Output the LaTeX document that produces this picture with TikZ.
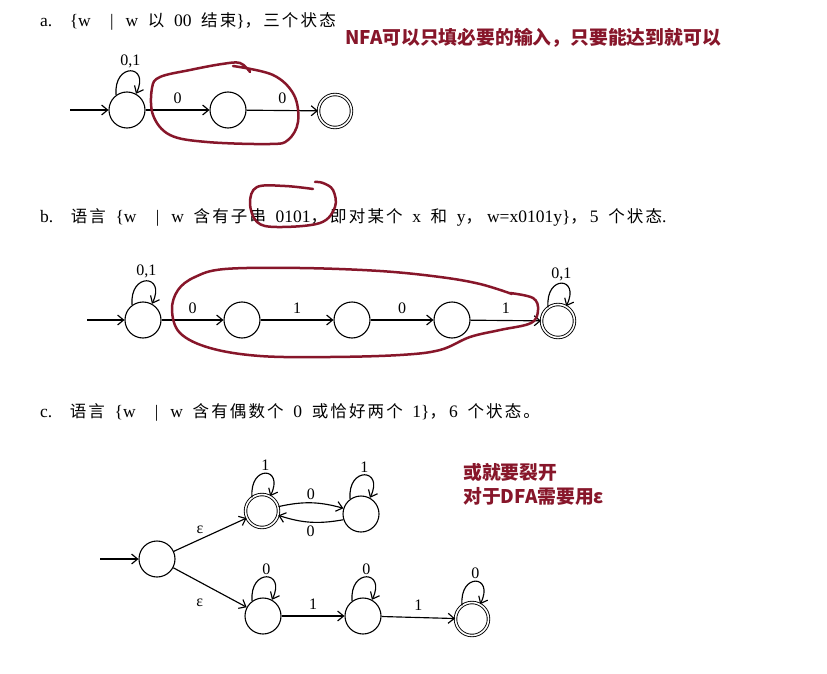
\documentclass[tikz,border=0pt]{standalone}
\usepackage{fontspec}
\setmainfont{Liberation Serif}[WordSpace=2.2]
\newfontfamily\cjk{Noto Sans CJK SC}[LetterSpace=13,Scale=0.943]
\newfontfamily\cjknote{Noto Sans CJK SC}
\usetikzlibrary{arrows.meta}
\definecolor{mark}{RGB}{135,22,42}
\newcommand\zh[1]{{\cjk #1}}
\newcommand\setbar{~|\hspace{12pt}}
\newcommand\selfloop[2]{\draw[tr] (#1.126) .. controls +(95:33) and +(64:33) .. node[lbl,above] {#2} (#1.61);}
\begin{document}
\begin{tikzpicture}[x=1pt,y=1pt,
 state/.style={circle,draw,line width=1.1pt,minimum size=36pt,inner sep=0pt},
 accept/.style={circle,draw,double,double distance=1.6pt,line width=0.9pt,minimum size=33pt,inner sep=0pt},
 tr/.style={->,>={Straight Barb[length=6pt,width=10pt]},line width=1.15pt},
 lbl/.style={font=\fontsize{16}{16}\selectfont,inner sep=2pt},
 title/.style={anchor=base west,font=\fontsize{17.5}{19}\selectfont,inner sep=0pt},
 note/.style={anchor=base west,font=\cjknote\bfseries\fontsize{18.8}{20}\selectfont,text=mark,inner sep=0pt},
 hand/.style={draw=mark,line width=2.5pt,line cap=round,line join=round}
]
\useasboundingbox[fill=white] (0,0) rectangle (827,-674);

% ---------- titles and notes
\node[title] (ta) at (40,-27) {a.\quad\{w \setbar w \zh{以} 00 \zh{结束}\}\zh{，三个状态}};
\node[note] (na) at (345,-45) {NFA可以只填必要的输入，只要能达到就可以};
\node[title] (tb) at (40,-222) {b.\quad\zh{语言} \{w \setbar w \zh{含有子串} 0101\zh{，}\hspace{3pt}\zh{即对某个} x \zh{和} y\zh{，}\hspace{5pt}w=x0101y\}\zh{，}\hspace{3pt}5 \zh{个状态}.};
\node[title] (tc) at (40,-417) {c.\quad\zh{语言} \{w \setbar w \zh{含有偶数个} 0 \zh{或恰好两个} 1\}\zh{，}\hspace{3pt}6 \zh{个状态。}};
\node[note] (nc1) at (463,-479) {或就要裂开};
\node[note] (nc2) at (463,-503) {对于DFA需要用ε};

% ---------- part a
\node[state] (a0) at (127,-110) {};
\node[state] (a1) at (228,-110) {};
\node[accept] (a2) at (335,-111) {};
\coordinate (as) at (70,-110);
\draw[tr] (as) -- (a0);
\selfloop{a0}{0,1}
\draw[tr] (a0) -- node[lbl,above=4pt] {0} (a1);
\draw[tr] (a1) -- node[lbl,above=4pt] {0} (a2);

% ---------- part b
\node[state] (b0) at (143,-320) {};
\node[state] (b1) at (242,-320) {};
\node[state] (b2) at (352,-320) {};
\node[state] (b3) at (452,-320) {};
\node[accept] (b4) at (558,-321) {};
\coordinate (bs) at (87,-320);
\draw[tr] (bs) -- (b0);
\selfloop{b0}{0,1}
\selfloop{b4}{0,1}
\draw[tr] (b0) -- node[lbl,above=4pt] {0} (b1);
\draw[tr] (b1) -- node[lbl,above=4pt] {1} (b2);
\draw[tr] (b2) -- node[lbl,above=4pt] {0} (b3);
\draw[tr] (b3) -- node[lbl,above=4pt] {1} (b4);

% ---------- part c
\node[state] (c0) at (157,-559) {};
\node[accept] (c1) at (262,-511) {};
\node[state] (c2) at (361,-514) {};
\node[state] (c3) at (263,-616) {};
\node[state] (c4) at (363,-616) {};
\node[accept] (c5) at (472,-619) {};
\coordinate (cs) at (100,-559);
\draw[tr] (cs) -- (c0);
\draw[tr] (c0) -- node[lbl,pos=0.36,above=3pt] {ε} (c1);
\draw[tr] (c0) -- node[lbl,pos=0.36,below=14pt] {ε} (c3);
\selfloop{c1}{1}
\selfloop{c2}{1}
\selfloop{c3}{0}
\selfloop{c4}{0}
\selfloop{c5}{0}
\draw[tr] (c1.15) to[bend left=14] node[lbl,above=1pt] {0} (c2.162);
\draw[tr] (c2.198) to[bend left=14] node[lbl,below=1pt] {0} (c1.-15);
\draw[tr] (c3) -- node[lbl,above=4pt] {1} (c4);
\draw[tr] (c4) -- node[lbl,above=4pt] {1} (c5);

% ---------- hand-drawn red marks
\draw[hand] plot[smooth,tension=0.6] coordinates {(233,-66) (273,-75) (294,-95) (298,-122) (288,-140) (270,-144) (207,-142) (170,-135) (153,-115) (152,-88) (160,-77) (190,-70) (222,-64) (240,-63) (250,-72)};
\draw[hand] plot[smooth,tension=0.6] coordinates {(313,-189) (285,-186) (257,-187) (250,-203) (257,-222) (277,-227) (320,-223) (335,-207) (333,-190) (323,-183) (315,-182)};
\draw[hand] plot[smooth,tension=0.6] coordinates {(510,-293) (533,-298) (538,-310) (531,-323) (500,-330) (470,-337) (440,-350) (400,-355) (330,-357) (260,-356) (210,-348) (180,-333) (172,-310) (178,-290) (195,-277) (225,-269) (300,-268) (380,-271) (440,-277) (480,-284) (512,-294)};
\end{tikzpicture}
\end{document}
